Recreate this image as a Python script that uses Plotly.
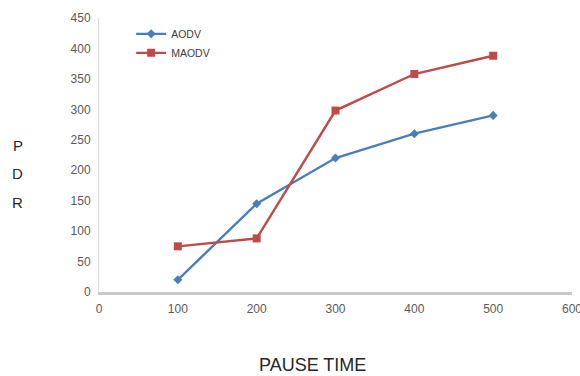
import plotly.graph_objects as go

pause_time = [100, 200, 300, 400, 500]
aodv = [20, 145, 220, 260, 290]
maodv = [75, 88, 298, 358, 388]
x_ticks = [0, 100, 200, 300, 400, 500, 600]
y_ticks = [0, 50, 100, 150, 200, 250, 300, 350, 400, 450]

fig = go.Figure()
fig.add_trace(go.Scatter(x=pause_time, y=aodv, name="AODV", mode="lines+markers",
                         line=dict(color="#4a7ebb", width=2.4),
                         marker=dict(symbol="diamond", size=7, color="#4a7ebb")))
fig.add_trace(go.Scatter(x=pause_time, y=maodv, name="MAODV", mode="lines+markers",
                         line=dict(color="#be4b48", width=2.4),
                         marker=dict(symbol="square", size=8, color="#be4b48")))

# plot area: x 99..572 px, y 18..292 px
fig.update_layout(
    width=580, height=376,
    margin=dict(l=99, r=8, t=18, b=84),
    paper_bgcolor="white", plot_bgcolor="white",
    font=dict(family="Liberation Sans, Arial, sans-serif", size=12, color="#595959"),
    showlegend=True,
    legend=dict(x=0.068, y=0.995, xanchor="left", yanchor="top",
                bgcolor="rgba(0,0,0,0)", font=dict(size=10.5, color="#404040"),
                tracegroupgap=0, itemwidth=30),
    xaxis=dict(range=[0, 600], tickvals=x_ticks, showgrid=False, zeroline=False,
               showline=True, linecolor="#c8c8c8", linewidth=3, ticks="",
               automargin=False, ticklabelstandoff=4, ticklabeloverflow="allow",
               tickfont=dict(size=12, color="#595959")),
    yaxis=dict(range=[0, 450], tickvals=y_ticks, showgrid=False, zeroline=False,
               showline=True, linecolor="#d9d9d9", linewidth=1, ticks="",
               automargin=False, ticklabelstandoff=5,
               tickfont=dict(size=12, color="#595959")),
    annotations=[
        dict(text="P", xref="paper", yref="paper", x=-0.172, y=0.535,
             xanchor="center", yanchor="middle", showarrow=False,
             font=dict(size=15, color="#262626")),
        dict(text="D", xref="paper", yref="paper", x=-0.172, y=0.432,
             xanchor="center", yanchor="middle", showarrow=False,
             font=dict(size=15, color="#262626")),
        dict(text="R", xref="paper", yref="paper", x=-0.172, y=0.326,
             xanchor="center", yanchor="middle", showarrow=False,
             font=dict(size=15, color="#262626")),
        dict(text="PAUSE TIME", xref="paper", yref="paper", x=(312 - 99) / 473,
             y=(292 - 365) / 274, xanchor="center", yanchor="middle", showarrow=False,
             font=dict(size=18, color="#262626")),
    ],
)

fig.write_html("out.html")
